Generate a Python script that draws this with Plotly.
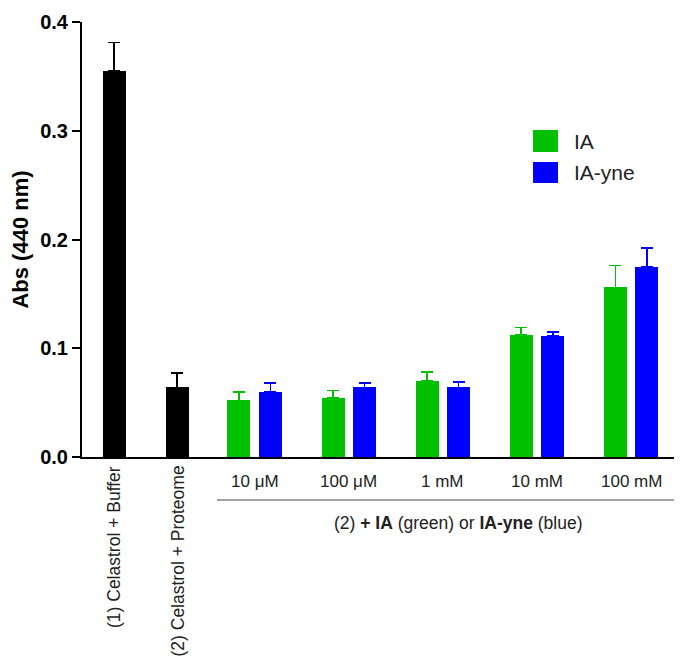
import plotly.graph_objects as go

# ---------------- data ----------------
control_labels = ["(1) Celastrol + Buffer", "(2) Celastrol + Proteome"]
control_values = [0.355, 0.064]
control_err = [0.026, 0.013]

concentrations = ["10 \u03bcM", "100 \u03bcM", "1 mM", "10 mM", "100 mM"]
ia_values = [0.052, 0.054, 0.070, 0.112, 0.156]
ia_err = [0.008, 0.007, 0.008, 0.007, 0.020]
iayne_values = [0.060, 0.064, 0.064, 0.111, 0.175]
iayne_err = [0.008, 0.004, 0.005, 0.004, 0.017]

series_names = ["IA", "IA-yne"]
group_title = "(2) <b>+ IA</b> (green) or <b>IA-yne</b> (blue)"
y_title = "Abs (440 nm)"

# ---------------- layout helpers ----------------
OFF = 8                      # page body margin
W, H = 682 - OFF, 662 - OFF
PL, PR, PT, PB = 82, 682, 22, 457   # plot area in screen pixels
ML, MR, MT, MB = PL - OFF, 0, PT - OFF, H - (PB - OFF)
PW, PH = PR - PL, PB - PT
FONT = "Liberation Sans, Arial, Helvetica, sans-serif"
GREEN = "#00C000"
BLUE = "#0000FF"


def px_x(p):
    return (p - PL) / PW


def px_y(p):
    return (PB - p) / PH


ctrl_pos = [float(i) for i in range(len(control_values))]
grp_pos = [2.233 + 1.494 * i for i in range(len(concentrations))]
offset = 0.25
bw = 0.365
ia_pos = [c - offset for c in grp_pos]
iy_pos = [c + offset for c in grp_pos]
x_range = [-0.508, 9.016]

fig = go.Figure()

fig.add_trace(go.Bar(
    x=ctrl_pos, y=control_values, width=bw,
    marker=dict(color="black", line=dict(width=0)),
    error_y=dict(type="data", array=control_err, arrayminus=[0] * len(control_err),
                 symmetric=False, color="black", thickness=1.6, width=6),
    showlegend=False, name="controls",
))
fig.add_trace(go.Bar(
    x=ia_pos, y=ia_values, width=bw,
    marker=dict(color=GREEN, line=dict(width=0)),
    error_y=dict(type="data", array=ia_err, arrayminus=[0] * len(ia_err),
                 symmetric=False, color=GREEN, thickness=1.6, width=6),
    showlegend=False, name=series_names[0],
))
fig.add_trace(go.Bar(
    x=iy_pos, y=iayne_values, width=bw,
    marker=dict(color=BLUE, line=dict(width=0)),
    error_y=dict(type="data", array=iayne_err, arrayminus=[0] * len(iayne_err),
                 symmetric=False, color=BLUE, thickness=1.6, width=6),
    showlegend=False, name=series_names[1],
))

annotations = []
# rotated control labels
for pos, lab in zip(ctrl_pos, control_labels):
    annotations.append(dict(
        x=pos, xref="x", y=px_y(464), yref="paper", text=lab, textangle=-90,
        xanchor="center", yanchor="top", showarrow=False,
        font=dict(family=FONT, size=17.5, color="#222"),
    ))
# concentration labels
for pos, lab in zip(grp_pos, concentrations):
    annotations.append(dict(
        x=pos, xref="x", y=px_y(481), yref="paper", text=lab,
        xanchor="center", yanchor="middle", showarrow=False,
        font=dict(family=FONT, size=17, color="#222"),
    ))
# group title
annotations.append(dict(
    x=px_x(458), xref="paper", y=px_y(523), yref="paper", text=group_title,
    xanchor="center", yanchor="middle", showarrow=False,
    font=dict(family=FONT, size=17.5, color="#222"),
))
# legend texts
legend_y = [141, 172]
for name, yy in zip(series_names, legend_y):
    annotations.append(dict(
        x=px_x(572), xref="paper", y=px_y(yy), yref="paper", text=name,
        xanchor="left", yanchor="middle", showarrow=False,
        font=dict(family=FONT, size=21, color="#222"),
    ))

shapes = [
    # group underline
    dict(type="line", xref="paper", yref="paper",
         x0=px_x(217), x1=1.0, y0=px_y(500), y1=px_y(500),
         line=dict(color="#444", width=1)),
    # legend swatches
    dict(type="rect", xref="paper", yref="paper",
         x0=px_x(533), x1=px_x(558), y0=px_y(152), y1=px_y(130),
         fillcolor=GREEN, line=dict(width=0)),
    dict(type="rect", xref="paper", yref="paper",
         x0=px_x(533), x1=px_x(558), y0=px_y(183), y1=px_y(162),
         fillcolor=BLUE, line=dict(width=0)),
]

fig.update_layout(
    width=W, height=H,
    margin=dict(l=ML, r=MR, t=MT, b=MB, pad=0),
    plot_bgcolor="white", paper_bgcolor="white",
    bargap=0, barmode="overlay",
    font=dict(family=FONT, color="black"),
    annotations=annotations, shapes=shapes,
    xaxis=dict(range=x_range, showticklabels=False, ticks="", showgrid=False,
               zeroline=False, showline=True, linecolor="black", linewidth=2),
    yaxis=dict(range=[0, 0.4], tickvals=[0, 0.1, 0.2, 0.3, 0.4], tickformat=".1f",
               ticks="outside", ticklen=8, tickwidth=2, tickcolor="black",
               showgrid=False, zeroline=False, showline=True, linecolor="black",
               linewidth=2,
               tickfont=dict(family=FONT, size=20, color="black", weight="bold"),
               title=dict(text="<b>" + y_title + "</b>", standoff=10,
                          font=dict(family=FONT, size=22, color="black"))),
)

fig.write_html("out.html")
